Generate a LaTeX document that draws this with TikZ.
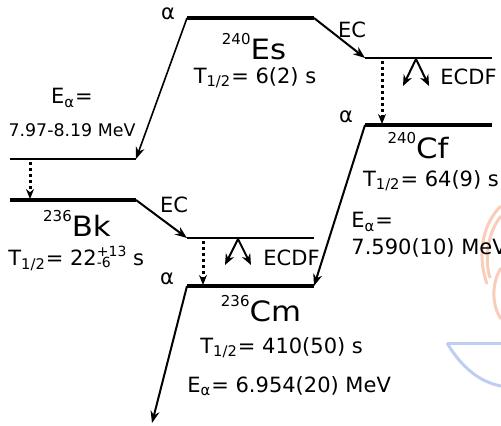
\documentclass[tikz,border=0pt]{standalone}
\usepackage{fontspec}
\setmainfont{DejaVu Sans}
\usepackage{xcolor}
\usepackage{graphicx}
\usetikzlibrary{positioning, arrows.meta}
\definecolor{wmorange}{HTML}{F9CDB8}
\definecolor{wmblue}{HTML}{BECDF1}
\newcommand{\errbar}[2]{\makebox[0pt][l]{\raisebox{-0.7pt}{\fontsize{7}{8}\selectfont #2}}\raisebox{4.8pt}{\fontsize{7}{8}\selectfont #1}}
\newcommand{\nuc}[2]{\raisebox{7.2pt}{\fontsize{7.5}{8}\selectfont #1}\scalebox{1.1}[1]{\fontsize{14}{16}\selectfont #2}}

\begin{document}
\begin{tikzpicture}[x=0.5pt, y=-0.5pt,
  every node/.style={font=\fontsize{10.5}{12}\selectfont, inner sep=0pt},
  small/.style={font=\fontsize{8.7}{10}\selectfont},
  ground/.style={line width=2pt},
  excited/.style={line width=1pt},
  decay/.style={line width=1pt, -{Stealth[length=6pt, width=4.5pt]}},
  deexcite/.style={line width=1.5pt, dash pattern=on 1.5pt off 1.5pt, -{Stealth[length=5pt, width=4pt]}},
  fission/.style={line width=1pt, -{Stealth[length=5.5pt, width=4.5pt]}}]
\useasboundingbox (0,0) rectangle (501,425);

% --- watermark ---
\draw[wmorange, line width=1.5pt] (501,206) .. controls (484,222) and (476,252) .. (487,284);
\draw[wmorange, line width=1.5pt] (501,216) .. controls (488,232) and (484,258) .. (490,278);
\draw[wmorange, line width=1.5pt] (501,268) .. controls (492,282) and (491,304) .. (501,319);
\draw[wmblue, line width=1.5pt] (447,343) -- (501,343);
\draw[wmblue, line width=1.5pt] (447,343) .. controls (462,368) and (480,382) .. (501,386);

% --- levels ---
\coordinate (esL) at (187,18);   \coordinate (esR) at (314,18);
\coordinate (cfxL) at (365,58);  \coordinate (cfxR) at (492,58);
\coordinate (cfL) at (365,125);  \coordinate (cfR) at (492,125);
\coordinate (bkxL) at (10,159);  \coordinate (bkxR) at (136,159);
\coordinate (bkL) at (10,200);   \coordinate (bkR) at (136,200);
\coordinate (cmxL) at (187,238); \coordinate (cmxR) at (314,238);
\coordinate (cmL) at (187,286);  \coordinate (cmR) at (314,286);
\coordinate (cmOut) at (152,423);

\draw[ground] (esL) -- (esR);
\draw[excited] (cfxL) -- (cfxR);
\draw[ground] (cfL) -- (cfR);
\draw[excited] (bkxL) -- (bkxR);
\draw[ground] (bkL) -- (bkR);
\draw[excited] (cmxL) -- (cmxR);
\draw[ground] (cmL) -- (cmR);

% --- decays ---
\draw[line width=0.8pt, -{Stealth[length=6pt, width=4.5pt]}] (esL) -- (bkxR);
\draw[decay] (esR) -- (cfxL);
\draw[decay] (cfL) -- (cmR);
\draw[decay] (bkR) -- (cmxL);
\draw[decay] (cmL) -- (cmOut);

% --- de-excitation ---
\coordinate (cfDot) at (382,61);  \coordinate (cfDotEnd) at (382,124);
\coordinate (bkDot) at (30,162);  \coordinate (bkDotEnd) at (30,199);
\coordinate (cmDot) at (203,241); \coordinate (cmDotEnd) at (203,285);
\draw[deexcite] (cfDot) -- (cfDotEnd);
\draw[deexcite] (bkDot) -- (bkDotEnd);
\draw[deexcite] (cmDot) -- (cmDotEnd);

% --- ECDF ---
\coordinate (cfFis) at (416,59);
\coordinate (cfFisA) at (403,86); \coordinate (cfFisB) at (429,86);
\coordinate (cmFis) at (238,239);
\coordinate (cmFisA) at (225,265); \coordinate (cmFisB) at (251,265);
\draw[fission] (cfFis) -- (cfFisA);
\draw[fission] (cfFis) -- (cfFisB);
\draw[fission] (cmFis) -- (cmFisA);
\draw[fission] (cmFis) -- (cmFisB);

% --- labels ---
\node (esAlpha) at (168,14) {α};
\node (esEC) at (352,30) {EC};
\node[anchor=west] (cfECDF) at (440,77) {ECDF};
\node (cfAlpha) at (346,117) {α};
\node[anchor=base] (esName) at (254,59) {\nuc{240}{Es}};
\node (esHalf) at (255,78) {T\textsubscript{1/2}= 6(2) s};
\node[anchor=base] (cfName) at (418,158) {\nuc{240}{Cf}};
\node (cfHalf) at (431,181) {T\textsubscript{1/2}= 64(9) s};
\node[anchor=west] (cfEa) at (351,222) {E\textsubscript{α}=};
\node[anchor=west] (cfEaVal) at (351,248) {7.590(10) MeV};
\node (esEa) at (72,98) {E\textsubscript{α}=};
\node[small] (esEaVal) at (72,130) {7.97-8.19 MeV};
\node[anchor=base] (bkName) at (77,236) {\nuc{236}{Bk}};
\node[anchor=west] (bkHalf) at (8,258) {T\textsubscript{1/2}= 22\errbar{+13}{-6} s};
\node (bkEC) at (174,205) {EC};
\node[anchor=west] (cmECDF) at (263,258) {ECDF};
\node (cmAlpha) at (167,279) {α};
\node[anchor=base] (cmName) at (261,321) {\nuc{236}{Cm}};
\node[anchor=west] (cmHalf) at (200,348) {T\textsubscript{1/2}= 410(50) s};
\node[anchor=west] (cmEa) at (187,386) {E\textsubscript{α}= 6.954(20) MeV};
\end{tikzpicture}
\end{document}
